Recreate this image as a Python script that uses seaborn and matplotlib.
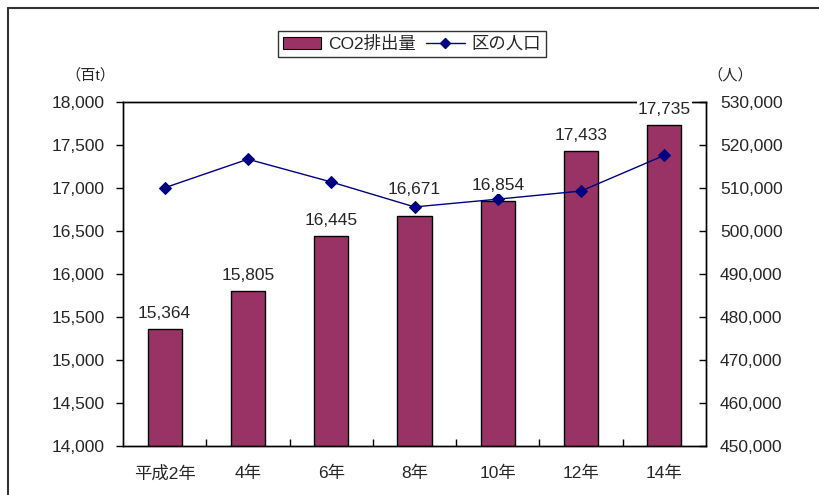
import numpy as np
import pandas as pd
import seaborn as sns
import matplotlib.pyplot as plt
from matplotlib.lines import Line2D
from matplotlib.patches import Patch

# data
years = ["平成2年", "4年", "6年", "8年", "10年", "12年", "14年"]
co2 = [15364, 15805, 16445, 16671, 16854, 17433, 17735]
population = [510050, 516700, 511400, 505600, 507400, 509300, 517600]

bar_color = "#993366"
line_color = "#000080"

sns.set_theme(style="white")
plt.rcParams["font.family"] = ["Liberation Sans", "Noto Sans CJK JP", "DejaVu Sans"]
plt.rcParams["font.size"] = 12

fig = plt.figure(figsize=(8.19, 4.95), dpi=100)
ax = fig.add_axes([123 / 819, 1 - 446 / 495, (706 - 123) / 819, (446 - 102) / 495])

df = pd.DataFrame({"year": years, "co2": co2, "pop": population})

sns.barplot(data=df, x="year", y="co2", ax=ax, color=bar_color, width=0.41,
            edgecolor="black", linewidth=1, saturation=1)
ax.set_ylim(14000, 18000)
ax.set_xlim(-0.5, len(years) - 0.5)
ax.set_yticks(np.arange(14000, 18001, 500))
ax.set_yticklabels([f"{v:,}" for v in range(14000, 18001, 500)])
ax.set_xlabel("")
ax.set_ylabel("")
ax.tick_params(axis="y", direction="out", length=5, width=1, color="black",
               labelsize=12.5, pad=8, left=True)
ax.tick_params(axis="x", length=0, labelsize=12.5, pad=14)
ax.set_xticks(np.arange(0.5, len(years) - 1, 1), minor=True)
ax.tick_params(axis="x", which="minor", direction="in", length=5, width=1,
               color="black", bottom=True)
for s in ax.spines.values():
    s.set_color("black")
    s.set_linewidth(1)

ax2 = ax.twinx()
sns.lineplot(x=np.arange(len(years)), y=population, ax=ax2, color=line_color,
             marker="D", markersize=6, markeredgecolor=line_color, linewidth=1)
ax2.set_ylim(450000, 530000)
ax2.set_yticks(np.arange(450000, 530001, 10000))
ax2.set_yticklabels([f"{v:,}" for v in range(450000, 530001, 10000)])
ax2.tick_params(axis="y", direction="in", length=5, width=1, color="black",
                labelsize=12.5, pad=10, right=True)
for s in ax2.spines.values():
    s.set_color("black")
    s.set_linewidth(1)

# bar value labels, drawn on top of the twin axes so they cover the frame
for i, v in enumerate(co2):
    # the 8年 label sits higher so it clears the population line
    off = 230 if years[i] == "8年" else 90
    ax2.text(i, v + off, f"{v:,}", transform=ax.transData, ha="center",
             va="bottom", fontsize=12.5, zorder=10, clip_on=False,
             bbox=dict(facecolor="white", edgecolor="none", pad=0.5))

fig.text(90 / 819, 1 - 75 / 495, "（百t）", ha="center", va="center", fontsize=11)
fig.text(730 / 819, 1 - 75 / 495, "（人）", ha="center", va="center", fontsize=11)

handles = [Patch(facecolor=bar_color, edgecolor="black", linewidth=0.8),
           Line2D([], [], color=line_color, marker="D", markersize=5, linewidth=1)]
leg = fig.legend(handles, ["CO2排出量", "区の人口"], loc="center",
                 bbox_to_anchor=(412 / 819, 1 - 44 / 495), ncol=2, frameon=True,
                 fancybox=False, edgecolor="black", fontsize=12.5,
                 handlelength=2.2, columnspacing=0.6, handletextpad=0.4,
                 borderpad=0.3)
leg.get_frame().set_linewidth(1)

# outer chart border (left and top visible)
fig.add_artist(Line2D([8 / 819, 8 / 819], [0, 1 - 8 / 495], color="#333333", linewidth=1.5))
fig.add_artist(Line2D([8 / 819, 1], [1 - 8 / 495, 1 - 8 / 495], color="#333333", linewidth=1.5))

fig.savefig("out.png", dpi=100)
